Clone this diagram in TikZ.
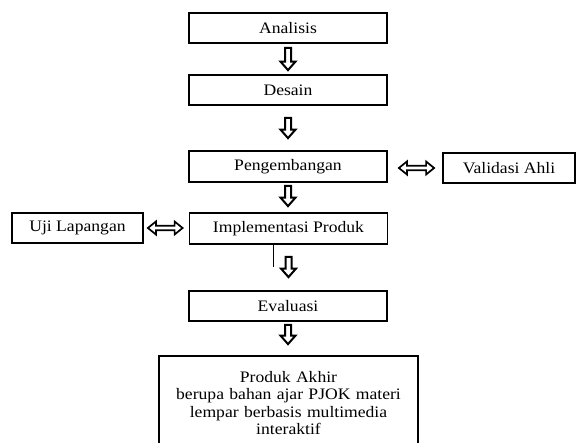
\documentclass[tikz,border=0pt]{standalone}
\usepackage{fontspec}
\setmainfont{Liberation Serif}[FakeStretch=1.1]
\usetikzlibrary{calc}

\tikzset{
	box/.style={draw,line width=1.8pt,minimum width=198pt,minimum height=30pt,inner sep=2pt,font=\fontsize{16}{17.5}\selectfont},
	% hollow block arrow pointing down
	hollow/.style={draw,line width=2pt,miter limit=4,to path={
		let \p1=(\tikztostart), \p2=(\tikztotarget) in
		(\x1-3pt,\y1) -- (\x1-3pt,\y2+8.5pt) -- (\x1-7.5pt,\y2+8.5pt) -- (\x1,\y2)
		-- (\x1+7.5pt,\y2+8.5pt) -- (\x1+3pt,\y2+8.5pt) -- (\x1+3pt,\y1) -- cycle}},
	% hollow block arrow with two heads
	hollowboth/.style={draw,line width=1.7pt,miter limit=4,to path={
		let \p1=(\tikztostart), \p2=(\tikztotarget) in
		(\x1,\y1) -- (\x1+8pt,\y1+6.5pt) -- (\x1+8pt,\y1+2.2pt) -- (\x2-8pt,\y1+2.2pt)
		-- (\x2-8pt,\y1+6.5pt) -- (\x2,\y1) -- (\x2-8pt,\y1-6.5pt) -- (\x2-8pt,\y1-2.2pt)
		-- (\x1+8pt,\y1-2.2pt) -- (\x1+8pt,\y1-6.5pt) -- cycle}}
}

\begin{document}
\begin{tikzpicture}[x=1pt,y=-1pt]
		\useasboundingbox (0,0) rectangle (576,443);
		\clip (0,0) rectangle (576,443);
		
		% the main column
		\node[box] (analisis) at (288,28) {Analisis};
		\node[box] (desain) at (288,90) {Desain};
		\node[box,minimum height=31pt] (pengembangan) at (288,166.5) {Pengembangan};
		\node[box,minimum height=31pt] (implementasi) at (288.5,228.5) {Implementasi Produk};
		\node[box] (evaluasi) at (288,306) {Evaluasi};
		\node[box,minimum width=259pt,minimum height=94pt,text width=250pt,align=center] (akhir) at (288.5,403)
		{Produk Akhir\\berupa bahan ajar PJOK materi\\lempar berbasis multimedia\\interaktif};
		
		% the side boxes
		\node[box,minimum width=131pt] (uji) at (77.5,228) {Uji Lapangan};
		\node[box,minimum width=132pt] (validasi) at (509,168) {Validasi Ahli};
		
		% the arrows down
		\draw[hollow] ([yshift=-4pt]analisis.south) to ([yshift=4pt]desain.north);
		\draw[hollow] ([yshift=-12pt]desain.south) to ([yshift=12pt]pengembangan.north);
		\draw[hollow] ([yshift=-3pt]pengembangan.south) to ([yshift=6pt]implementasi.north);
		\draw[hollow] ([yshift=-12pt]implementasi.south) to ([yshift=13pt]evaluasi.north);
		\draw[hollow] ([yshift=-3pt]evaluasi.south) to ([yshift=11pt]akhir.north);
		
		% the arrows both ways
		\draw[hollowboth] ([xshift=11pt]pengembangan.east|-validasi) to ([xshift=-8pt]validasi.west);
		\draw[hollowboth] ([xshift=4pt]uji.east) to ([xshift=-6pt]implementasi.west|-uji);
		
		% the thin stub under the box
		\coordinate (stub) at (273,267);
		\draw[line width=0.6pt] (implementasi.south-|stub) -- (stub);
	\end{tikzpicture}
\end{document}
